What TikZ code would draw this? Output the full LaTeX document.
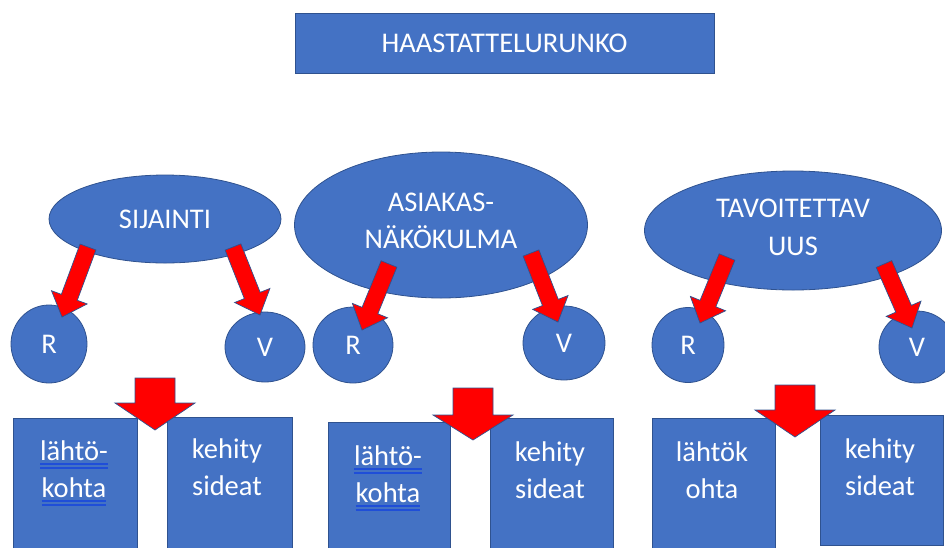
\documentclass[tikz,border=0pt]{standalone}
\usepackage{fontspec}
\setmainfont{Carlito}
\usetikzlibrary{shapes.geometric,calc}
\definecolor{shapeblue}{HTML}{4472C4}
\definecolor{edgeblue}{HTML}{2F528F}
\definecolor{arrowred}{HTML}{FF0000}
\definecolor{ulblue}{HTML}{1F4ED8}

% blue double underline under a word
\newcommand{\dblul}[1]{{\setbox0=\hbox{#1}\rlap{\copy0}\rlap{\color{ulblue}\rule[-4.4pt]{\wd0}{1.5pt}}{\color{ulblue}\rule[-8.4pt]{\wd0}{1.5pt}}}}

% block arrow: #1 tail, #2 tip, #3 half shaft width, #4 half head width, #5 head length
\newcommand{\redarrow}[5]{%
  \coordinate (#1#2b) at ($(#2)!#5!(#1)$);
  \draw[arrowsty] ($(#1)!#3!90:(#2)$) -- ($(#1#2b)!#3!90:(#2)$) -- ($(#1#2b)!#4!90:(#2)$)
    -- (#2) -- ($(#1#2b)!#4!-90:(#2)$) -- ($(#1#2b)!#3!-90:(#2)$) -- ($(#1)!#3!-90:(#2)$) -- cycle;
}

\begin{document}
\begin{tikzpicture}[x=1pt,y=-1pt,
  every node/.style={text=white, font=\fontsize{28.5}{37}\selectfont, inner sep=0pt},
  blueshape/.style={fill=shapeblue, draw=edgeblue, line width=0.8pt},
  oval/.style={blueshape, ellipse},
  box/.style={blueshape, rectangle},
  arrowsty/.style={fill=arrowred, draw=edgeblue, line width=0.7pt, line join=miter}]
\useasboundingbox (0,0) rectangle (945,547);
\clip (0,0) rectangle (945,547);

% title
\node[box, minimum width=419pt, minimum height=60pt] (title) at (504.5,43) {HAASTATTELURUNKO};

% themes
\node[oval, minimum width=232pt, minimum height=88pt] (sij) at (165,219) {SIJAINTI};
\node[oval, minimum width=293pt, minimum height=146pt] (asi) at (441,225) {};
\node[align=center] (asitxt) at (441,220.5) {ASIAKAS-\\NÄKÖKULMA};
\node[oval, minimum width=297pt, minimum height=119pt] (tav) at (793,230.5) {};
\node[align=center, font=\fontsize{28.5}{38.5}\selectfont] (tavtxt) at (793,227.5) {TAVOITETTAV\\UUS};

% R / V circles
\node[oval, minimum width=76pt, minimum height=78pt] (r1) at (49,344) {R};
\node[oval, minimum width=80pt, minimum height=70pt] (v1) at (265,347) {V};
\node[oval, minimum width=80pt, minimum height=76pt] (r2) at (353,345) {R};
\node[oval, minimum width=82pt, minimum height=74pt] (v2) at (564,343) {V};
\node[oval, minimum width=72pt, minimum height=75pt] (r3) at (688,345) {R};
\node[oval, minimum width=76pt, minimum height=72pt] (v3) at (917,347) {V};

% bottom boxes
\node[box, minimum width=124pt, minimum height=150pt, anchor=north west] (b1l) at (13,418) {};
\node[box, minimum width=125pt, minimum height=150pt, anchor=north west] (b1r) at (167,417) {};
\node[box, minimum width=122pt, minimum height=150pt, anchor=north west] (b2l) at (328,422) {};
\node[box, minimum width=123pt, minimum height=150pt, anchor=north west] (b2r) at (490,418) {};
\node[box, minimum width=123pt, minimum height=150pt, anchor=north west] (b3l) at (652,418) {};
\node[box, minimum width=123pt, minimum height=130pt, anchor=north west] (b3r) at (820,415) {};

\node[align=center] (b1lt) at (74,473) {\dblul{lähtö-}\\\dblul{kohta}};
\node[align=center] (b1rt) at (227,467) {kehity\\sideat};
\node[align=center] (b2lt) at (388,478) {\dblul{lähtö-}\\\dblul{kohta}};
\node[align=center] (b2rt) at (550,470.5) {kehity\\sideat};
\node[align=center] (b3lt) at (712,470.5) {lähtök\\ohta};
\node[align=center] (b3rt) at (880,467) {kehity\\sideat};

% arrow end points
\coordinate (a1s) at (88,247);  \coordinate (a1e) at (62,317);
\coordinate (a2s) at (233,247); \coordinate (a2e) at (260,315);
\coordinate (a3s) at (389,264); \coordinate (a3e) at (362,330);
\coordinate (a4s) at (531,253); \coordinate (a4e) at (558,322);
\coordinate (a5s) at (727,257); \coordinate (a5e) at (700,323);
\coordinate (a6s) at (884,264); \coordinate (a6e) at (912,328);
\coordinate (d1s) at (155,378); \coordinate (d1e) at (155,430);
\coordinate (d2s) at (473,388); \coordinate (d2e) at (473,440);
\coordinate (d3s) at (795,385); \coordinate (d3e) at (795,437);

\redarrow{a1s}{a1e}{8.5pt}{19pt}{21pt}
\redarrow{a2s}{a2e}{8.5pt}{19pt}{21pt}
\redarrow{a3s}{a3e}{8.5pt}{19pt}{21pt}
\redarrow{a4s}{a4e}{8.5pt}{19pt}{21pt}
\redarrow{a5s}{a5e}{8.5pt}{19pt}{21pt}
\redarrow{a6s}{a6e}{8.5pt}{19pt}{21pt}
\redarrow{d1s}{d1e}{20pt}{40pt}{27pt}
\redarrow{d2s}{d2e}{20pt}{40pt}{25pt}
\redarrow{d3s}{d3e}{20pt}{40pt}{27pt}
\end{tikzpicture}
\end{document}
